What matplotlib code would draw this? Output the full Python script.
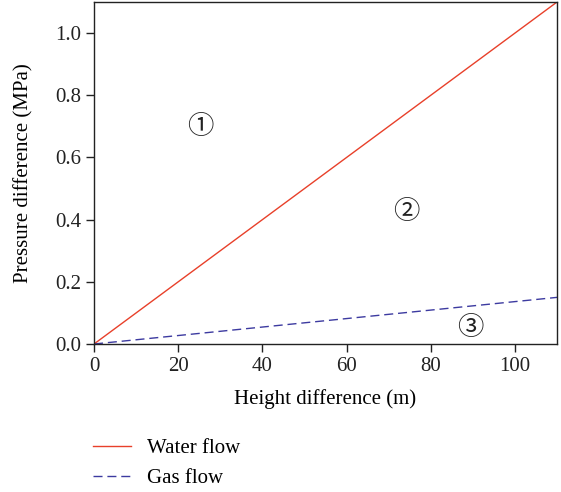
import matplotlib
matplotlib.use('Agg')
import matplotlib.pyplot as plt
import numpy as np

plt.rcParams['font.family'] = ['Liberation Serif', 'DejaVu Serif', 'Noto Sans CJK SC']

# data
height = [0, 110]
water_dp = [0.0, 1.1]
gas_dp = [0.0, 0.15]
regions = ['①', '②', '③']
region_x = [25.3, 74.3, 89.3]
region_y = [0.698, 0.425, 0.052]

fig = plt.figure(figsize=(5.61, 4.92), dpi=100)
ax = fig.add_axes([0.1676, 0.3008, 0.8253, 0.6951])

l1, = ax.plot(height, water_dp, color='#e8402a', lw=1.0, label='Water flow')
l2, = ax.plot(height, gas_dp, color='#3c3aa0', lw=1.0, ls=(0, (6.5, 3.5)), label='Gas flow')

for t, x, y in zip(regions, region_x, region_y):
    ax.text(x, y, t, fontsize=19, ha='center', va='center', color='#222222')

ax.set_xlim(0, 110)
ax.set_ylim(0, 1.1)
ax.set_xticks([0, 20, 40, 60, 80, 100])
ax.set_yticks([0.0, 0.2, 0.4, 0.6, 0.8, 1.0])
ax.yaxis.set_major_formatter(matplotlib.ticker.FormatStrFormatter('%.1f'))
ax.tick_params(direction='out', length=6, width=1, labelsize=15, colors='#222222', pad=3)
ax.set_xlabel('Height difference (m)', fontsize=15, labelpad=10)
ax.set_ylabel('Pressure difference (MPa)', fontsize=15, labelpad=16)
for s in ax.spines.values():
    s.set_linewidth(1.0)
    s.set_color('#222222')

fig.legend(handles=[l1, l2], loc='upper left', bbox_to_anchor=(0.151, 0.125),
           frameon=False, fontsize=15, handlelength=1.8, handletextpad=0.8,
           labelspacing=0.5, borderaxespad=0)

fig.savefig('out.png', dpi=100)
